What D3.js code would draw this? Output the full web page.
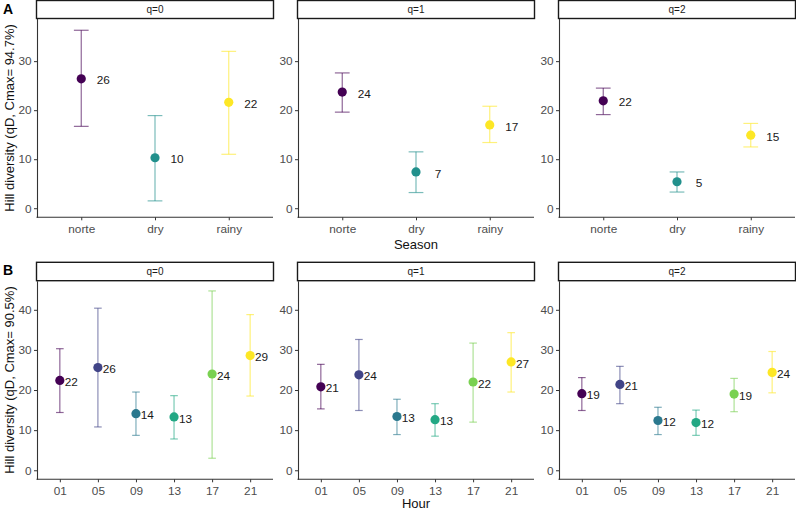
<!DOCTYPE html>
<html>
<head>
<meta charset="utf-8">
<script src="https://cdn.jsdelivr.net/npm/d3@7"></script>
<style>
  body { margin: 0; background: #fff; }
  svg { font-family: "Liberation Sans", Arial, sans-serif; }
</style>
</head>
<body>
<div id="chart"></div>
<script>
// facets and categories
var qLabels = ["q=0", "q=1", "q=2"];
var seasons = ["norte", "dry", "rainy"];
var hours = ["01", "05", "09", "13", "17", "21"];
var seasonColors = ["#440154", "#21908C", "#FDE725"];
var hourColors = ["#440154", "#414487", "#2A788E", "#22A884", "#7AD151", "#FDE725"];

// panel A: season estimates (one row per q)
var seasonEst = [[26.4, 10.3, 21.6], [23.7, 7.4, 17.0], [21.9, 5.4, 14.9]];
var seasonLow = [[16.7, 1.5, 11.0], [19.6, 3.2, 13.4], [19.1, 3.3, 12.5]];
var seasonHigh = [[36.3, 18.9, 32.0], [27.6, 11.5, 20.8], [24.5, 7.4, 17.3]];

// panel B: hour estimates
var hourEst = [[22.4, 25.6, 14.1, 13.3, 24.0, 28.6],
               [20.8, 23.8, 13.4, 12.6, 22.0, 27.0],
               [19.1, 21.4, 12.4, 11.9, 19.0, 24.4]];
var hourLow = [[14.4, 10.8, 8.7, 7.8, 3.0, 18.5],
               [15.3, 14.9, 8.9, 8.5, 12.0, 19.5],
               [14.9, 16.6, 8.9, 8.7, 14.6, 19.3]];
var hourHigh = [[30.3, 40.4, 19.5, 18.6, 44.7, 38.8],
                [26.4, 32.6, 17.7, 16.6, 31.7, 34.3],
                [23.1, 25.9, 15.7, 15.0, 22.9, 29.6]];

var seasonTicks = [0, 10, 20, 30];
var hourTicks = [0, 10, 20, 30, 40];

var width = 796, height = 510;
var panelW = 236, gap = 25, left = 37;

var svg = d3.select("#chart").append("svg")
    .attr("width", width)
    .attr("height", height);

function drawRow(opt) {
    var x = d3.scalePoint().domain(opt.cats).range([0, panelW]).padding(0.6);
    var y = d3.scaleLinear().domain(opt.yDomain).range([opt.bottom, opt.top]);
    var step = x.step();

    qLabels.forEach((q, i) => {
        var g = svg.append("g")
            .attr("transform", "translate(" + (left + i * (panelW + gap)) + ",0)");

        // strip
        g.append("rect")
            .attr("x", -0.5).attr("y", opt.stripTop)
            .attr("width", panelW + 1).attr("height", opt.top - opt.stripTop)
            .attr("fill", "#fff").attr("stroke", "#1a1a1a").attr("stroke-width", 1.4);
        g.append("text")
            .attr("x", panelW / 2).attr("y", (opt.stripTop + opt.top) / 2)
            .attr("dy", "0.35em").attr("text-anchor", "middle")
            .attr("font-size", 10).attr("fill", "#1a1a1a")
            .text(q);

        var yAxis = g.append("g")
            .call(d3.axisLeft(y).tickValues(opt.ticks).tickSize(3).tickSizeOuter(0).tickPadding(2.5));
        var xAxis = g.append("g")
            .attr("transform", "translate(0," + opt.bottom + ")")
            .call(d3.axisBottom(x).tickSize(3).tickSizeOuter(0).tickPadding(4.4));
        [yAxis, xAxis].forEach((a) => {
            a.select(".domain").attr("stroke", "#333").attr("stroke-width", 1.1);
            a.selectAll(".tick line").attr("stroke", "#333").attr("stroke-width", 1);
            a.selectAll(".tick text").attr("fill", "#4d4d4d").attr("font-size", 11.8)
                .attr("font-family", "Liberation Sans, Arial, sans-serif");
        });
        xAxis.select(".domain").attr("d", "M-0.5,0H" + panelW);

        var rows = opt.cats.map((c, j) => ({
            cat: c, est: opt.est[i][j], lo: opt.lo[i][j], hi: opt.hi[i][j], col: opt.colors[j]
        }));

        var bars = g.selectAll(".err").data(rows).enter().append("g")
            .attr("stroke", (d) => d.col).attr("stroke-opacity", 0.6).attr("stroke-width", 1.2);
        bars.append("line")
            .attr("x1", (d) => x(d.cat)).attr("x2", (d) => x(d.cat))
            .attr("y1", (d) => y(d.lo)).attr("y2", (d) => y(d.hi));
        bars.append("line")
            .attr("x1", (d) => x(d.cat) - step * 0.1).attr("x2", (d) => x(d.cat) + step * 0.1)
            .attr("y1", (d) => y(d.lo)).attr("y2", (d) => y(d.lo));
        bars.append("line")
            .attr("x1", (d) => x(d.cat) - step * 0.1).attr("x2", (d) => x(d.cat) + step * 0.1)
            .attr("y1", (d) => y(d.hi)).attr("y2", (d) => y(d.hi));

        g.selectAll(".pt").data(rows).enter().append("circle")
            .attr("cx", (d) => x(d.cat)).attr("cy", (d) => y(d.est))
            .attr("r", 4.6).attr("fill", (d) => d.col);

        g.selectAll(".lab").data(rows).enter().append("text")
            .attr("x", (d) => x(d.cat) + step * 0.3)
            .attr("y", (d) => y(d.est) + 1.5)
            .attr("dy", "0.35em").attr("text-anchor", "middle")
            .attr("font-size", 11.8).attr("fill", "#1a1a1a")
            .text((d) => Math.round(d.est));
    });

    // axis titles and panel tag
    svg.append("text")
        .attr("transform", "translate(9," + ((opt.top + opt.bottom) / 2) + ") rotate(-90)")
        .attr("dy", "0.35em").attr("text-anchor", "middle")
        .attr("font-size", 13).attr("fill", "#111")
        .text(opt.yTitle);
    svg.append("text")
        .attr("x", left + (3 * panelW + 2 * gap) / 2).attr("y", opt.xTitleY)
        .attr("text-anchor", "middle").attr("font-size", 13).attr("fill", "#111")
        .text(opt.xTitle);
    svg.append("text")
        .attr("x", 3).attr("y", opt.stripTop + 13)
        .attr("font-size", 14).attr("font-weight", "bold").attr("fill", "#000")
        .text(opt.tag);
}

drawRow({
    cats: seasons, colors: seasonColors, est: seasonEst, lo: seasonLow, hi: seasonHigh,
    yDomain: [-1.85, 38.7], ticks: seasonTicks,
    stripTop: 0.5, top: 18.5, bottom: 217.3,
    yTitle: "Hill diversity (qD, Cmax= 94.7%)", xTitle: "Season", xTitleY: 248.5, tag: "A"
});

drawRow({
    cats: hours, colors: hourColors, est: hourEst, lo: hourLow, hi: hourHigh,
    yDomain: [-2.25, 47.25], ticks: hourTicks,
    stripTop: 262.3, top: 280.7, bottom: 479.3,
    yTitle: "Hill diversity (qD, Cmax= 90.5%)", xTitle: "Hour", xTitleY: 507.5, tag: "B"
});
</script>
</body>
</html>
